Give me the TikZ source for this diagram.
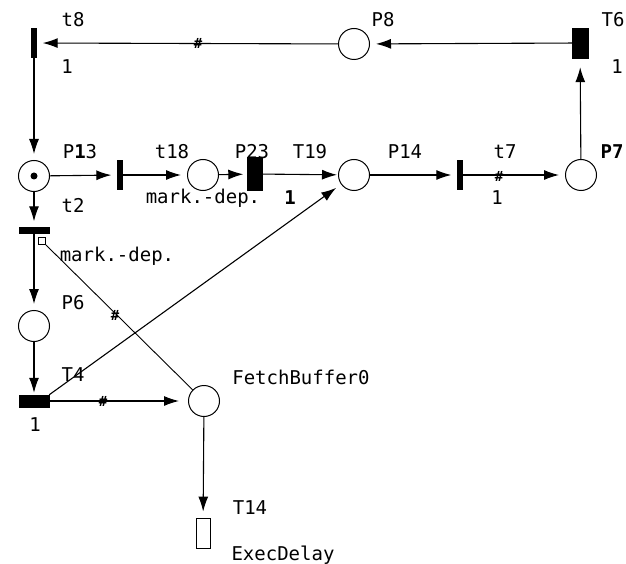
\documentclass[tikz,border=0pt]{standalone}
\usepackage{fontspec}
\setmonofont{DejaVu Sans Mono}
\usetikzlibrary{arrows.meta}
\definecolor{NetInk}{HTML}{000000}
\definecolor{NetBg}{HTML}{FFFFFF}
\tikzset{
  net place/.style={
    circle,
    draw=NetInk,
    line width=1pt,
    minimum size=31pt,
    inner sep=0pt
  },
  net bar/.style={
    rectangle,
    draw=NetInk,
    fill=NetInk,
    inner sep=0pt,
    minimum width=5pt,
    minimum height=29pt
  },
  net box/.style={
    rectangle,
    draw=NetInk,
    line width=0.9pt,
    inner sep=0pt,
    minimum width=14pt,
    minimum height=30pt
  },
  net flow/.style={-{Latex[length=15pt,width=10pt]},draw=NetInk,line width=1.1pt,shorten >=6pt},
  net arc/.style={draw=NetInk,line width=0.9pt},
  net label/.style={
    text=NetInk,
    inner sep=0pt,
    font=\ttfamily\fontsize{19}{19}\selectfont
  },
  net hash/.style={
    text=NetInk,
    inner sep=0pt,
    font=\ttfamily\bfseries\fontsize{14}{14}\selectfont
  }
}

\begin{document}
\begin{tikzpicture}[x=1pt,y=-1pt]
  \useasboundingbox[fill=NetBg] (0,0) rectangle (626,564);
  % places and transitions
  \node[net bar] (t8) at (34,43) {};
  \node[net place] (P8) at (354,44) {};
  \node[net bar,minimum width=16pt,minimum height=30pt] (T6) at (580,43) {};
  \node[net place] (P13) at (34,176) {};
  \node[circle,fill=NetInk,inner sep=0pt,minimum size=7pt] (token) at (P13) {};
  \node[net bar] (t18) at (120,175) {};
  \node[net place] (P23) at (203,175) {};
  \node[net bar,minimum width=15pt,minimum height=33pt] (T19) at (255,174) {};
  \node[net place] (P14) at (354,175) {};
  \node[net bar] (t7) at (460,175) {};
  \node[net place] (P7) at (581,175) {};
  \node[net bar,minimum width=30pt,minimum height=6pt] (t2) at (34,230.5) {};
  \node[draw=NetInk,line width=0.8pt,inner sep=0pt,minimum size=7pt] (test) at (42,241) {};
  \node[net place] (P6) at (34,326) {};
  \node[net bar,minimum width=30pt,minimum height=12pt] (T4) at (34,401) {};
  \node[net place] (FB) at (204,401) {};
  \node[net box] (T14) at (203,533) {};

  % arcs
  \draw[net flow] (T6) -- (P8);
  \draw[net flow] (P8) -- (t8);
  \draw[net flow] (t8) -- (P13);
  \draw[net flow] (P13) -- (t18);
  \draw[net flow] (t18) -- (P23);
  \draw[net flow,shorten >=4pt] (P23) -- (T19);
  \draw[net flow,shorten >=1pt] (T19) -- (P14);
  \draw[net flow] (P14) -- (t7);
  \draw[net flow] (t7) -- (P7);
  \draw[net flow,shorten >=9pt] (P7) -- (T6);
  \draw[net flow] (P13) -- (t2);
  \draw[net flow] (t2) -- (P6);
  \draw[net flow,shorten >=2pt] (P6) -- (T4);
  \draw[net flow,shorten >=9pt] (T4) -- (FB);
  \draw[net flow] (FB) -- (T14);
  \draw[net flow] (T4.north east) -- (P14);
  \draw[net arc] (test.south east) -- (FB);

  % inscriptions
  \node[net hash] (h1) at (198,43) {\#};
  \node[net hash] (h2) at (499,176) {\#};
  \node[net hash] (h3) at (115,315) {\#};
  \node[net hash] (h4) at (103,401) {\#};

  \node[net label] (t8 name) at (73,20) {t8};
  \node[net label] (t8 w) at (67,67) {1};
  \node[net label] (P8 name) at (383,20) {P8};
  \node[net label] (T6 name) at (613,20) {T6};
  \node[net label] (T6 w) at (617,67) {1};
  \node[net label] (P13 name) at (80,152) {P\textbf{1}3};
  \node[net label] (t18 name) at (172,152) {t18};
  \node[net label] (P23 name) at (252,152) {P23};
  \node[net label] (T19 name) at (310,152) {T19};
  \node[net label] (P14 name) at (405,152) {P14};
  \node[net label] (t7 name) at (505,152) {t7};
  \node[net label] (P7 name) at (612,152) {\bfseries P7};
  \node[net label] (t2 name) at (73,205) {t2};
  \node[net label] (P23 kind) at (203,198) {mark.-dep.};
  \node[net label] (T19 w) at (290,198) {\bfseries 1};
  \node[net label] (t7 w) at (497,198) {1};
  \node[net label] (t2 kind) at (117,256) {mark.-dep.};
  \node[net label] (P6 name) at (73,303) {P6};
  \node[net label] (T4 name) at (73,375) {T4};
  \node[net label] (T4 w) at (35,425) {1};
  \node[net label] (FB name) at (301,377) {FetchBuffer0};
  \node[net label] (T14 name) at (250,508) {T14};
  \node[net label] (T14 kind) at (283,555) {ExecDelay};
\end{tikzpicture}
\end{document}
